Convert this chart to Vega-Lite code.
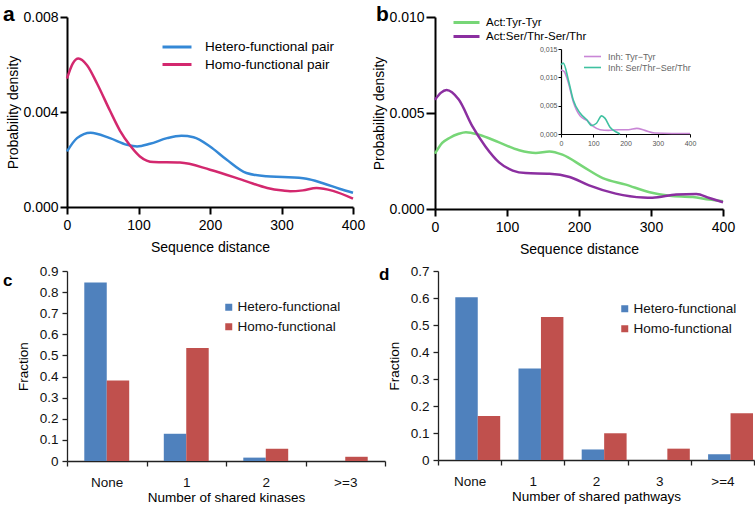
{
  "$schema": "https://vega.github.io/schema/vega-lite/v6.json",
  "background": "white",
  "padding": {"left": 3, "top": 4, "right": 0, "bottom": 0},
  "config": {
    "font": "Liberation Sans",
    "view": {"stroke": null},
    "axis": {"grid": false, "labelColor": "#000", "titleColor": "#000", "domainColor": "#000", "tickColor": "#000", "titleFontWeight": "normal", "labelFont": "Liberation Sans", "titleFont": "Liberation Sans"},
    "legend": {"padding": 0, "offset": 0, "labelFont": "Liberation Sans"},
    "title": {"font": "Liberation Sans", "fontWeight": "bold", "color": "#000", "anchor": "start", "frame": "group", "offset": 0, "baseline": "alphabetic"}
  },
  "datasets": {
    "a": [
      {"series": "Hetero-functional pair", "x": 0, "y": 0.00234},
      {"series": "Hetero-functional pair", "x": 14, "y": 0.0029},
      {"series": "Hetero-functional pair", "x": 33, "y": 0.00313},
      {"series": "Hetero-functional pair", "x": 60, "y": 0.0029},
      {"series": "Hetero-functional pair", "x": 84, "y": 0.00262},
      {"series": "Hetero-functional pair", "x": 98, "y": 0.00255},
      {"series": "Hetero-functional pair", "x": 116, "y": 0.00266},
      {"series": "Hetero-functional pair", "x": 140, "y": 0.0029},
      {"series": "Hetero-functional pair", "x": 160, "y": 0.003},
      {"series": "Hetero-functional pair", "x": 177, "y": 0.00294},
      {"series": "Hetero-functional pair", "x": 200, "y": 0.00255},
      {"series": "Hetero-functional pair", "x": 223, "y": 0.002},
      {"series": "Hetero-functional pair", "x": 251, "y": 0.00143},
      {"series": "Hetero-functional pair", "x": 279, "y": 0.00129},
      {"series": "Hetero-functional pair", "x": 302, "y": 0.00126},
      {"series": "Hetero-functional pair", "x": 335, "y": 0.00119},
      {"series": "Hetero-functional pair", "x": 358, "y": 0.001},
      {"series": "Hetero-functional pair", "x": 381, "y": 0.00077},
      {"series": "Hetero-functional pair", "x": 400, "y": 0.0006},
      {"series": "Homo-functional pair", "x": 0, "y": 0.00541},
      {"series": "Homo-functional pair", "x": 8, "y": 0.00604},
      {"series": "Homo-functional pair", "x": 16, "y": 0.00625},
      {"series": "Homo-functional pair", "x": 28, "y": 0.00597},
      {"series": "Homo-functional pair", "x": 42, "y": 0.0052},
      {"series": "Homo-functional pair", "x": 60, "y": 0.00406},
      {"series": "Homo-functional pair", "x": 74, "y": 0.00322},
      {"series": "Homo-functional pair", "x": 88, "y": 0.0026},
      {"series": "Homo-functional pair", "x": 102, "y": 0.00213},
      {"series": "Homo-functional pair", "x": 121, "y": 0.00189},
      {"series": "Homo-functional pair", "x": 158, "y": 0.00187},
      {"series": "Homo-functional pair", "x": 200, "y": 0.00157},
      {"series": "Homo-functional pair", "x": 251, "y": 0.00108},
      {"series": "Homo-functional pair", "x": 280, "y": 0.0008},
      {"series": "Homo-functional pair", "x": 302, "y": 0.00069},
      {"series": "Homo-functional pair", "x": 312, "y": 0.00066},
      {"series": "Homo-functional pair", "x": 330, "y": 0.0007},
      {"series": "Homo-functional pair", "x": 349, "y": 0.0008},
      {"series": "Homo-functional pair", "x": 372, "y": 0.00068},
      {"series": "Homo-functional pair", "x": 400, "y": 0.00035}
    ],
    "b": [
      {"series": "Act:Tyr-Tyr", "x": 0, "y": 0.00288},
      {"series": "Act:Tyr-Tyr", "x": 10, "y": 0.00344},
      {"series": "Act:Tyr-Tyr", "x": 20, "y": 0.0037},
      {"series": "Act:Tyr-Tyr", "x": 33, "y": 0.00392},
      {"series": "Act:Tyr-Tyr", "x": 43, "y": 0.004},
      {"series": "Act:Tyr-Tyr", "x": 61, "y": 0.00387},
      {"series": "Act:Tyr-Tyr", "x": 89, "y": 0.00347},
      {"series": "Act:Tyr-Tyr", "x": 117, "y": 0.00306},
      {"series": "Act:Tyr-Tyr", "x": 140, "y": 0.00292},
      {"series": "Act:Tyr-Tyr", "x": 159, "y": 0.003},
      {"series": "Act:Tyr-Tyr", "x": 177, "y": 0.00283},
      {"series": "Act:Tyr-Tyr", "x": 205, "y": 0.00222},
      {"series": "Act:Tyr-Tyr", "x": 233, "y": 0.00161},
      {"series": "Act:Tyr-Tyr", "x": 265, "y": 0.00127},
      {"series": "Act:Tyr-Tyr", "x": 298, "y": 0.00087},
      {"series": "Act:Tyr-Tyr", "x": 326, "y": 0.00069},
      {"series": "Act:Tyr-Tyr", "x": 358, "y": 0.00062},
      {"series": "Act:Tyr-Tyr", "x": 381, "y": 0.00049},
      {"series": "Act:Tyr-Tyr", "x": 400, "y": 0.0004},
      {"series": "Act:Ser/Thr-Ser/Thr", "x": 0, "y": 0.00569},
      {"series": "Act:Ser/Thr-Ser/Thr", "x": 8, "y": 0.00605},
      {"series": "Act:Ser/Thr-Ser/Thr", "x": 16, "y": 0.0062},
      {"series": "Act:Ser/Thr-Ser/Thr", "x": 33, "y": 0.0057},
      {"series": "Act:Ser/Thr-Ser/Thr", "x": 52, "y": 0.0043},
      {"series": "Act:Ser/Thr-Ser/Thr", "x": 70, "y": 0.00326},
      {"series": "Act:Ser/Thr-Ser/Thr", "x": 89, "y": 0.00243},
      {"series": "Act:Ser/Thr-Ser/Thr", "x": 108, "y": 0.002},
      {"series": "Act:Ser/Thr-Ser/Thr", "x": 126, "y": 0.00187},
      {"series": "Act:Ser/Thr-Ser/Thr", "x": 159, "y": 0.00184},
      {"series": "Act:Ser/Thr-Ser/Thr", "x": 187, "y": 0.00167},
      {"series": "Act:Ser/Thr-Ser/Thr", "x": 214, "y": 0.00123},
      {"series": "Act:Ser/Thr-Ser/Thr", "x": 251, "y": 0.0008},
      {"series": "Act:Ser/Thr-Ser/Thr", "x": 289, "y": 0.0006},
      {"series": "Act:Ser/Thr-Ser/Thr", "x": 302, "y": 0.00059},
      {"series": "Act:Ser/Thr-Ser/Thr", "x": 335, "y": 0.00075},
      {"series": "Act:Ser/Thr-Ser/Thr", "x": 363, "y": 0.00078},
      {"series": "Act:Ser/Thr-Ser/Thr", "x": 381, "y": 0.00057},
      {"series": "Act:Ser/Thr-Ser/Thr", "x": 400, "y": 0.00035}
    ],
    "inset": [
      {"series": "Inh: Tyr−Tyr", "x": 0, "y": 0.0113},
      {"series": "Inh: Tyr−Tyr", "x": 10, "y": 0.011},
      {"series": "Inh: Tyr−Tyr", "x": 23, "y": 0.009},
      {"series": "Inh: Tyr−Tyr", "x": 38, "y": 0.0057},
      {"series": "Inh: Tyr−Tyr", "x": 59, "y": 0.0032},
      {"series": "Inh: Tyr−Tyr", "x": 80, "y": 0.0024},
      {"series": "Inh: Tyr−Tyr", "x": 100, "y": 0.00135},
      {"series": "Inh: Tyr−Tyr", "x": 121, "y": 0.00076},
      {"series": "Inh: Tyr−Tyr", "x": 147, "y": 0.00064},
      {"series": "Inh: Tyr−Tyr", "x": 178, "y": 0.00076},
      {"series": "Inh: Tyr−Tyr", "x": 209, "y": 0.00076},
      {"series": "Inh: Tyr−Tyr", "x": 235, "y": 0.001},
      {"series": "Inh: Tyr−Tyr", "x": 260, "y": 0.00064},
      {"series": "Inh: Tyr−Tyr", "x": 291, "y": 0.00018},
      {"series": "Inh: Tyr−Tyr", "x": 343, "y": 0.0001},
      {"series": "Inh: Tyr−Tyr", "x": 400, "y": 0.0001},
      {"series": "Inh: Ser/Thr−Ser/Thr", "x": 0, "y": 0.0122},
      {"series": "Inh: Ser/Thr−Ser/Thr", "x": 7, "y": 0.0125},
      {"series": "Inh: Ser/Thr−Ser/Thr", "x": 23, "y": 0.0095},
      {"series": "Inh: Ser/Thr−Ser/Thr", "x": 38, "y": 0.006},
      {"series": "Inh: Ser/Thr−Ser/Thr", "x": 59, "y": 0.0037},
      {"series": "Inh: Ser/Thr−Ser/Thr", "x": 80, "y": 0.0025},
      {"series": "Inh: Ser/Thr−Ser/Thr", "x": 95, "y": 0.0015},
      {"series": "Inh: Ser/Thr−Ser/Thr", "x": 110, "y": 0.0019},
      {"series": "Inh: Ser/Thr−Ser/Thr", "x": 126, "y": 0.0032},
      {"series": "Inh: Ser/Thr−Ser/Thr", "x": 136, "y": 0.0028},
      {"series": "Inh: Ser/Thr−Ser/Thr", "x": 152, "y": 0.0012},
      {"series": "Inh: Ser/Thr−Ser/Thr", "x": 173, "y": 0.0003},
      {"series": "Inh: Ser/Thr−Ser/Thr", "x": 183, "y": 0}
    ],
    "c": [
      {"k": "None", "group": "Hetero-functional", "v": 0.845},
      {"k": "None", "group": "Homo-functional", "v": 0.381},
      {"k": "1", "group": "Hetero-functional", "v": 0.129},
      {"k": "1", "group": "Homo-functional", "v": 0.535},
      {"k": "2", "group": "Hetero-functional", "v": 0.016},
      {"k": "2", "group": "Homo-functional", "v": 0.058},
      {"k": ">=3", "group": "Hetero-functional", "v": 0.0},
      {"k": ">=3", "group": "Homo-functional", "v": 0.02}
    ],
    "d": [
      {"k": "None", "group": "Hetero-functional", "v": 0.603},
      {"k": "None", "group": "Homo-functional", "v": 0.163},
      {"k": "1", "group": "Hetero-functional", "v": 0.339},
      {"k": "1", "group": "Homo-functional", "v": 0.53},
      {"k": "2", "group": "Hetero-functional", "v": 0.039},
      {"k": "2", "group": "Homo-functional", "v": 0.099},
      {"k": "3", "group": "Hetero-functional", "v": 0.0},
      {"k": "3", "group": "Homo-functional", "v": 0.042},
      {"k": ">=4", "group": "Hetero-functional", "v": 0.021},
      {"k": ">=4", "group": "Homo-functional", "v": 0.173}
    ]
  },
  "spacing": 8,
  "resolve": {"scale": {"color": "independent"}, "legend": {"color": "independent"}},
  "vconcat": [
    {
      "spacing": 7,
      "resolve": {"scale": {"color": "independent"}, "legend": {"color": "independent"}},
      "hconcat": [
        {
          "title": {"text": "a", "fontSize": 21, "dx": -64, "dy": 10, "offset": -5},
          "width": 286,
          "height": 190,
          "data": {"name": "a"},
          "mark": {"type": "line", "interpolate": "monotone", "strokeWidth": 2.5},
          "encoding": {
            "x": {"field": "x", "type": "quantitative", "scale": {"domain": [0, 400], "nice": false},
              "axis": {"values": [0, 100, 200, 300, 400], "title": "Sequence distance", "labelFontSize": 14, "titleFontSize": 14, "domainWidth": 2, "tickWidth": 2, "tickSize": 7, "labelPadding": 4, "titlePadding": 8, "labelFlush": false}},
            "y": {"field": "y", "type": "quantitative", "scale": {"domain": [0, 0.008], "nice": false},
              "axis": {"values": [0, 0.004, 0.008], "format": ".3f", "title": "Probability density", "labelFontSize": 14, "titleFontSize": 14, "domainWidth": 2, "tickWidth": 2, "tickSize": 7, "labelPadding": 2, "titlePadding": 2}},
            "color": {"field": "series", "type": "nominal",
              "scale": {"domain": ["Hetero-functional pair", "Homo-functional pair"], "range": ["#3488d6", "#d3286e"]},
              "legend": {"title": null, "orient": "none", "legendX": 101, "legendY": 21, "symbolType": "M-2,0L2,0", "symbolSize": 210, "symbolStrokeWidth": 3, "labelOffset": 19, "rowPadding": 1.5, "labelFontSize": 13.5, "labelColor": "#000"}}
          }
        },
        {
          "title": {"text": "b", "fontSize": 21, "dx": -59, "dy": 10, "offset": -5},
          "width": 288,
          "height": 192,
          "layer": [
            {
              "data": {"name": "b"},
              "mark": {"type": "line", "interpolate": "monotone", "strokeWidth": 2.5},
              "encoding": {
                "x": {"field": "x", "type": "quantitative", "scale": {"domain": [0, 400], "nice": false},
                  "axis": {"values": [0, 100, 200, 300, 400], "title": "Sequence distance", "labelFontSize": 14, "titleFontSize": 14, "domainWidth": 2, "tickWidth": 2, "tickSize": 7, "labelPadding": 4, "titlePadding": 8, "labelFlush": false}},
                "y": {"field": "y", "type": "quantitative", "scale": {"domain": [0, 0.01], "nice": false},
                  "axis": {"values": [0, 0.005, 0.01], "format": ".3f", "title": "Probability density", "labelFontSize": 14, "titleFontSize": 14, "domainWidth": 2, "tickWidth": 2, "tickSize": 9, "labelPadding": 2, "titlePadding": 2}},
                "color": {"field": "series", "type": "nominal",
                  "scale": {"domain": ["Act:Tyr-Tyr", "Act:Ser/Thr-Ser/Thr"], "range": ["#77d677", "#8b2fa0"]},
                  "legend": {"title": null, "orient": "none", "legendX": 23.5, "legendY": -2.5, "symbolType": "M-2,0L2,0", "symbolSize": 169, "symbolStrokeWidth": 3, "labelOffset": 11.5, "rowPadding": -2, "labelFontSize": 11.5, "labelColor": "#000"}}
              }
            },
            {
              "data": {"name": "inset"},
              "mark": {"type": "line", "interpolate": "monotone", "strokeWidth": 1.6},
              "encoding": {
                "x": {"field": "x", "type": "quantitative", "scale": {"domain": [0, 400], "nice": false, "range": [126, 255]},
                  "axis": {"orient": "bottom", "offset": -75, "values": [0, 100, 200, 300, 400], "title": null, "labelFontSize": 7, "labelColor": "#555", "domainWidth": 1.2, "tickWidth": 1, "tickSize": 3, "labelPadding": 2, "labelFlush": false}},
                "y": {"field": "y", "type": "quantitative", "scale": {"domain": [0, 0.015], "nice": false, "range": [117, 32]},
                  "axis": {"orient": "left", "offset": -126, "values": [0, 0.005, 0.01, 0.015], "labelExpr": "replace(format(datum.value, '.3f'), '.', ',')", "title": null, "labelFontSize": 7, "labelColor": "#555", "domainWidth": 1.2, "tickWidth": 1, "tickSize": 3, "labelPadding": 1}},
                "color": {"field": "series", "type": "nominal",
                  "scale": {"domain": ["Inh: Tyr−Tyr", "Inh: Ser/Thr−Ser/Thr"], "range": ["#c986d6", "#3fc1a0"]},
                  "legend": {"title": null, "orient": "none", "legendX": 152, "legendY": 34, "symbolType": "M-2,0L2,0", "symbolSize": 72, "symbolStrokeWidth": 1.6, "labelOffset": 10, "rowPadding": -2, "labelFontSize": 9, "labelColor": "#666"}}
              }
            }
          ],
          "resolve": {"scale": {"x": "independent", "y": "independent", "color": "independent"}, "axis": {"x": "independent", "y": "independent"}, "legend": {"color": "independent"}}
        }
      ]
    },
    {
      "spacing": -7,
      "resolve": {"scale": {"color": "independent"}, "legend": {"color": "independent"}},
      "hconcat": [
        {
          "title": {"text": "c", "fontSize": 17, "dx": -64, "dy": 19, "offset": -7},
          "width": 318,
          "height": 190,
          "data": {"name": "c"},
          "mark": {"type": "bar"},
          "encoding": {
            "x": {"field": "k", "type": "nominal", "sort": ["None", "1", "2", ">=3"], "scale": {"paddingInner": 0, "paddingOuter": 0},
              "axis": {"labelAngle": 0, "tickBand": "extent", "title": "Number of shared kinases", "labelFontSize": 13.5, "titleFontSize": 13.5, "domainWidth": 1.3, "tickWidth": 1.3, "tickSize": 5, "labelPadding": 9, "titlePadding": 2, "domainColor": "#222", "tickColor": "#222", "labelColor": "#111"}},
            "xOffset": {"field": "group", "type": "nominal", "sort": ["Hetero-functional", "Homo-functional"], "scale": {"paddingInner": 0, "paddingOuter": 0.77}},
            "y": {"field": "v", "type": "quantitative", "scale": {"domain": [0, 0.9], "nice": false},
              "axis": {"values": [0, 0.1, 0.2, 0.3, 0.4, 0.5, 0.6, 0.7, 0.8, 0.9], "format": "~g", "title": "Fraction", "labelFontSize": 13.5, "titleFontSize": 13.5, "domainWidth": 1.3, "tickWidth": 1.3, "tickSize": 5, "labelPadding": 4, "titlePadding": 9, "domainColor": "#222", "tickColor": "#222", "labelColor": "#111"}},
            "color": {"field": "group", "type": "nominal",
              "scale": {"domain": ["Hetero-functional", "Homo-functional"], "range": ["#4f81bd", "#c0504d"]},
              "legend": {"title": null, "orient": "none", "legendX": 155, "legendY": 29.5, "symbolType": "square", "symbolSize": 49, "symbolStrokeWidth": 0, "labelOffset": 2, "rowPadding": 4.5, "labelFontSize": 13.5, "labelColor": "#111"}}
          }
        },
        {
          "title": {"text": "d", "fontSize": 17, "dx": -59, "dy": 15, "offset": -5},
          "width": 316,
          "height": 189,
          "data": {"name": "d"},
          "mark": {"type": "bar"},
          "encoding": {
            "x": {"field": "k", "type": "nominal", "sort": ["None", "1", "2", "3", ">=4"], "scale": {"paddingInner": 0, "paddingOuter": 0},
              "axis": {"labelAngle": 0, "tickBand": "extent", "title": "Number of shared pathways", "labelFontSize": 13.5, "titleFontSize": 13.5, "domainWidth": 1.3, "tickWidth": 1.3, "tickSize": 5, "labelPadding": 9, "titlePadding": 2, "domainColor": "#222", "tickColor": "#222", "labelColor": "#111"}},
            "xOffset": {"field": "group", "type": "nominal", "sort": ["Hetero-functional", "Homo-functional"], "scale": {"paddingInner": 0, "paddingOuter": 0.75}},
            "y": {"field": "v", "type": "quantitative", "scale": {"domain": [0, 0.7], "nice": false},
              "axis": {"values": [0, 0.1, 0.2, 0.3, 0.4, 0.5, 0.6, 0.7], "format": "~g", "title": "Fraction", "labelFontSize": 13.5, "titleFontSize": 13.5, "domainWidth": 1.3, "tickWidth": 1.3, "tickSize": 5, "labelPadding": 4, "titlePadding": 9, "domainColor": "#222", "tickColor": "#222", "labelColor": "#111"}},
            "color": {"field": "group", "type": "nominal",
              "scale": {"domain": ["Hetero-functional", "Homo-functional"], "range": ["#4f81bd", "#c0504d"]},
              "legend": {"title": null, "orient": "none", "legendX": 180, "legendY": 31, "symbolType": "square", "symbolSize": 49, "symbolStrokeWidth": 0, "labelOffset": 2, "rowPadding": 5, "labelFontSize": 13.5, "labelColor": "#111"}}
          }
        }
      ]
    }
  ]
}
